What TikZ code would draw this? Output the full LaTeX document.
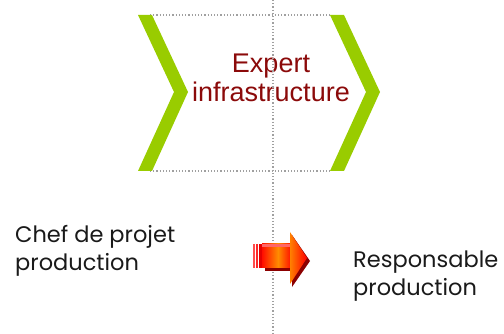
\documentclass[tikz,border=0pt]{standalone}
\usepackage{fontspec}
\setmainfont{Liberation Sans}
\newfontfamily\gothfont{Poppins}
\usetikzlibrary{shadings}
\definecolor{chevgreen}{HTML}{99CC00}
\definecolor{titlered}{HTML}{8B0A0A}
\definecolor{guidegray}{HTML}{A0A0A0}
\definecolor{labelgray}{HTML}{1A1A1A}
\tikzset{
  chevron/.style={fill=chevgreen, draw=none},
  guide/.style={draw=guidegray, line width=1.2pt, dash pattern=on 1.2pt off 2pt},
  title/.style={font=\fontsize{27}{29}\selectfont, text=titlered, align=center, inner sep=0pt, anchor=base},
  label/.style={font=\gothfont\fontsize{22.5}{28}\selectfont, text=labelgray, align=left, inner sep=0pt, anchor=base west},
}
\begin{document}
\begin{tikzpicture}[x=1pt,y=-1pt]
\useasboundingbox (0,0) rectangle (504,334);
% dotted frame of the chevron area
\draw[guide] (150,15) -- (332,15);
\draw[guide] (150,171) -- (332,171);
% chevrons
\fill[chevron] (138,15) -- (152,15) -- (188,92) -- (152,171) -- (138,171) -- (174,92) -- cycle;
\fill[chevron] (330,15) -- (344,15) -- (380,92) -- (344,171) -- (330,171) -- (366,92) -- cycle;
% title
\node[title] (expert) at (271,102) {Expert\\infrastructure};
% labels
\node[label] (chef) at (15,270) {Chef de projet\\production};
\node[label] (resp) at (353,295) {Responsable\\production};
% vertical guide
\draw[guide] (273,0) -- (273,334);
% arrow
\fill[red!55!black] (265,247) rectangle (292,271);
\fill[red!55!black] (292,235) -- (310,261) -- (292,287) -- cycle;
\fill[red!70!white] (253,244) rectangle (255,268);
\fill[red!85!white] (256,244) rectangle (258,268);
\fill[red!90!black] (259,244) rectangle (262,268);
\shade[left color=red!90!orange, right color=orange!90!yellow] (262,244) rectangle (278,268);
\shade[left color=orange!90!yellow, right color=red!80!orange] (278,244) rectangle (290,268);
\shade[left color=orange, right color=red] (290,232) -- (307,258) -- (290,284) -- cycle;
\fill[red!60!white] (262,244) rectangle (290,247);
\end{tikzpicture}
\end{document}
